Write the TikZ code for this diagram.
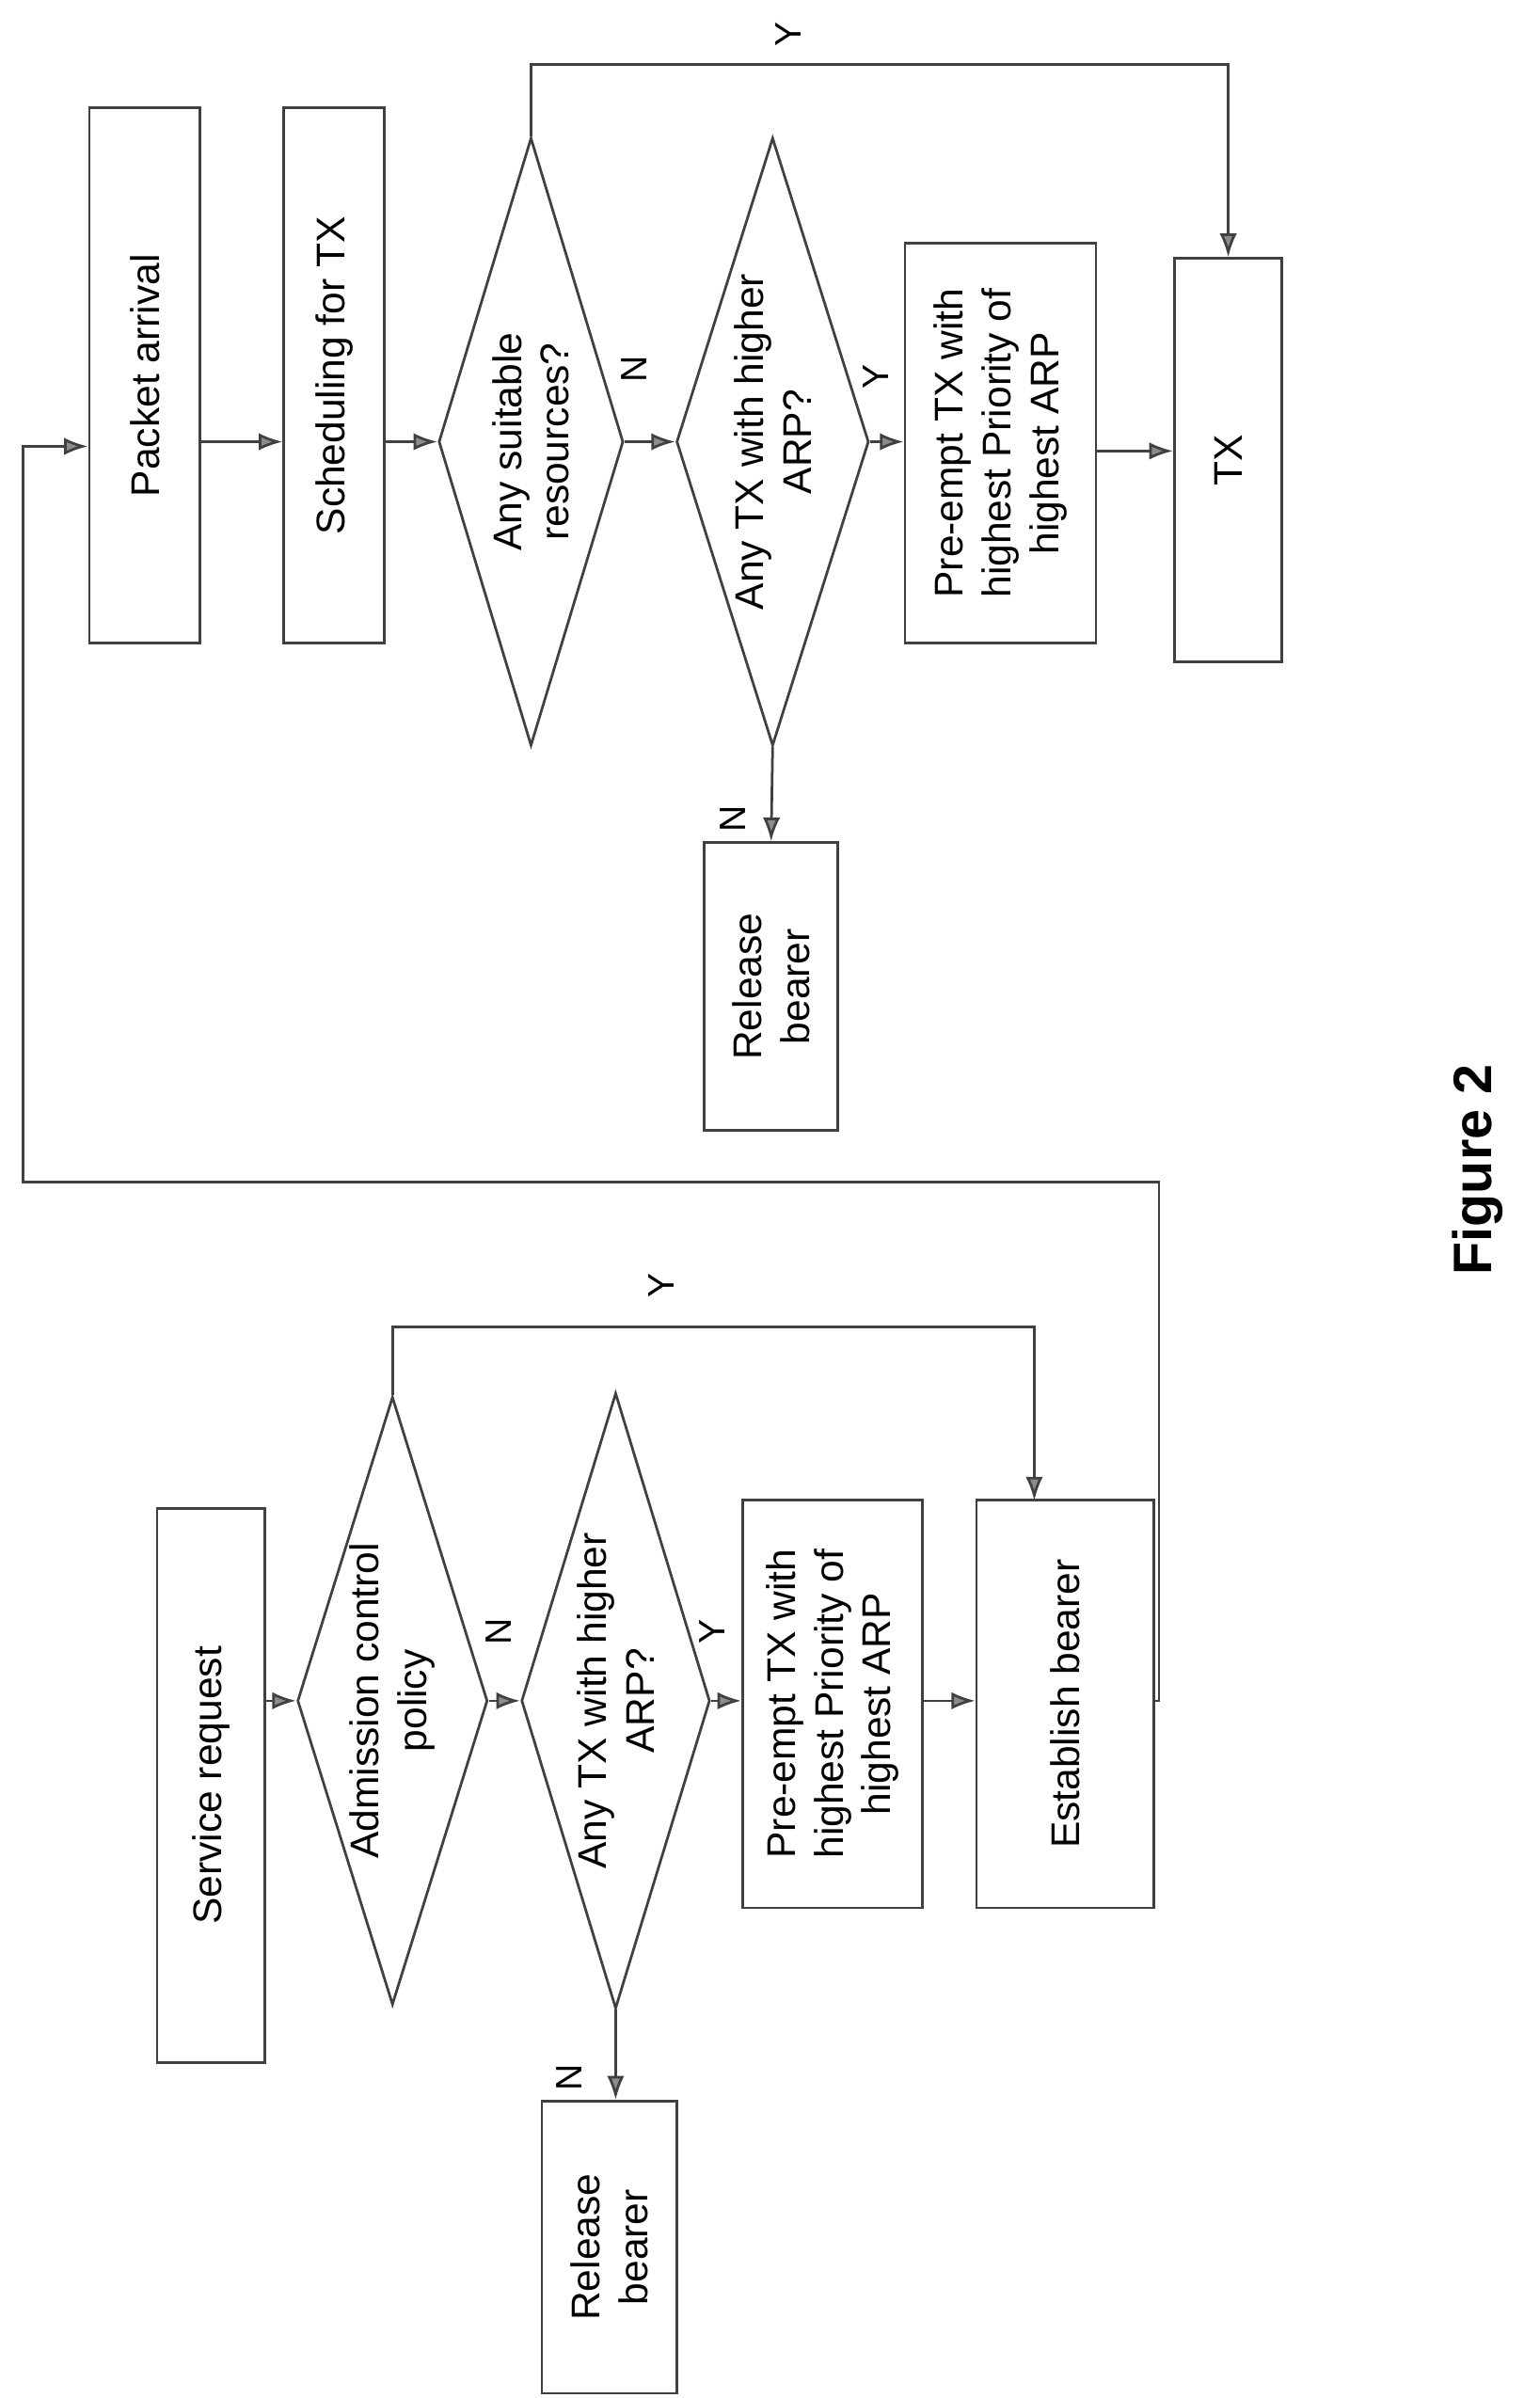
\documentclass[tikz,border=0pt]{standalone}
\usepackage{fontspec}
\setmainfont{Liberation Sans}
\usetikzlibrary{shapes.geometric,arrows.meta}
\begin{document}
\begin{tikzpicture}[x=0.05cm,y=-0.05cm,
  ln/.style={draw=black!75,line width=2.4pt},
  arr/.style={ln,-{Latex[length=22pt,width=16pt,fill=black!45]}},
  box/.style={ln,rectangle,rotate=90,inner sep=0,align=center,font=\fontsize{37}{44}\selectfont},
  dia/.style={ln,diamond,rotate=90,inner sep=0,aspect=3,align=center,font=\fontsize{37}{44}\selectfont},
  lab/.style={rotate=90,font=\fontsize{34}{40}\selectfont}]
\fill[white] (0,0) rectangle (1000,1558);
% top chart
\node[box,minimum width=17.4cm,minimum height=3.6cm] (pa) at (94,244) {Packet arrival};
\node[box,minimum width=17.4cm,minimum height=3.25cm] (sc) at (217,244) {Scheduling for TX};
\node[dia,minimum width=19.75cm,minimum height=6cm] (d1) at (345,287) {Any suitable\\resources?};
\node[dia,minimum width=19.75cm,minimum height=6.25cm] (d2) at (502,287) {Any TX with higher\\ARP?};
\node[box,minimum width=13cm,minimum height=6.2cm] (pe) at (650,288) {Pre-empt TX with\\highest Priority of\\highest ARP};
\node[box,minimum width=13.1cm,minimum height=3.5cm] (tx) at (798,299) {TX};
\node[box,minimum width=9.35cm,minimum height=4.35cm] (rb) at (501,641) {Release\\bearer};
\draw[arr] (pa.south |- 0,287) -- (sc.north |- 0,287);
\draw[arr] (sc.south |- 0,287) -- (d1.north);
\draw[arr] (d1.south) -- (d2.north);
\draw[arr] (d2.south) -- (pe.north |- 0,287);
\draw[arr] (pe.south |- 0,293) -- (tx.north |- 0,293);
\draw[arr] (d2.west) -- (rb.east);
\draw[arr] (d1.east) -- (345,42) -| (tx.east);
\node[lab] (n1) at (412,240) {N};
\node[lab] (y1) at (569,245) {Y};
\node[lab] (n2) at (476,532) {N};
\node[lab] (y2) at (512,22) {Y};
% bottom chart
\node[box,minimum width=18cm,minimum height=3.5cm] (sr) at (137,1160) {Service request};
\node[dia,minimum width=19.75cm,minimum height=6cm] (e1) at (255,1105) {Admission control\\policy};
\node[dia,minimum width=20cm,minimum height=5.75cm] (e2) at (400,1105) {Any TX with higher\\ARP?};
\node[box,minimum width=13.25cm,minimum height=5.85cm] (pb) at (541,1107) {Pre-empt TX with\\highest Priority of\\highest ARP};
\node[box,minimum width=13.25cm,minimum height=5.75cm] (eb) at (692,1107) {Establish bearer};
\node[box,minimum width=9.5cm,minimum height=4.4cm] (rc) at (396,1460) {Release\\bearer};
\draw[arr] (sr.south |- 0,1105) -- (e1.north);
\draw[arr] (e1.south) -- (e2.north);
\draw[arr] (e2.south) -- (pb.north |- 0,1105);
\draw[arr] (pb.south |- 0,1105) -- (eb.north |- 0,1105);
\draw[arr] (e2.west) -- (rc.east -| e2.west);
\draw[arr] (e1.east) -- (255,862) -| (672,975);
\node[lab] (n3) at (324,1060) {N};
\node[lab] (y3) at (463,1060) {Y};
\node[lab] (n4) at (370,1350) {N};
\node[lab] (y4) at (430,835) {Y};
% loop
\draw[arr] (eb.south |- 0,1105) -- (753,1105) -- (753,768) -- (15,768) -- (15,290) -- (pa.north |- 0,290);
\node[rotate=90,font=\fontsize{50}{56}\selectfont\bfseries] (fig) at (960,760) {Figure 2};
\end{tikzpicture}
\end{document}
